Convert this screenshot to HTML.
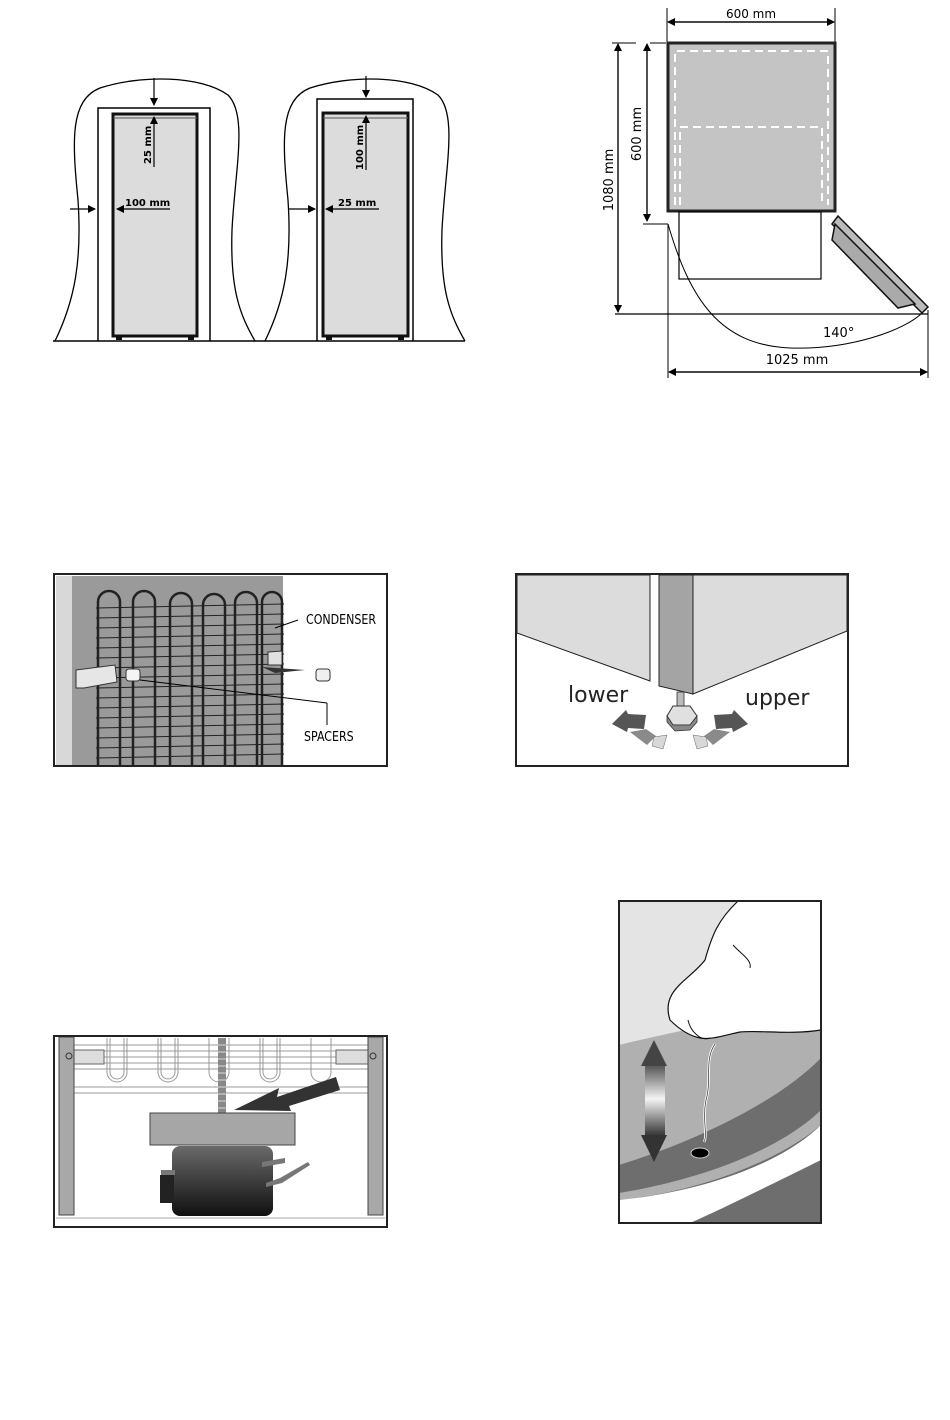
<!DOCTYPE html>
<html><head><meta charset="utf-8"><style>
html,body{margin:0;padding:0;background:#fff;}
svg{display:block;}
text{font-family:"DejaVu Sans","Liberation Sans",sans-serif;}
</style></head><body>
<svg width="950" height="1420" viewBox="0 0 950 1420" xmlns="http://www.w3.org/2000/svg">
<defs>
<marker id="ah" markerWidth="8" markerHeight="8" refX="7" refY="4" orient="auto" markerUnits="userSpaceOnUse">
<path d="M0,0 L8,4 L0,8 z" fill="#000"/></marker>
<linearGradient id="comp" x1="0" y1="0" x2="0" y2="1"><stop offset="0" stop-color="#6a6a6a"/><stop offset="1" stop-color="#101010"/></linearGradient>
<linearGradient id="dar" x1="0" y1="0" x2="0" y2="1"><stop offset="0" stop-color="#444"/><stop offset="0.5" stop-color="#f4f4f4"/><stop offset="1" stop-color="#333"/></linearGradient>
</defs>

<!-- ============ Top-left: clearance diagrams ============ -->
<g fill="none" stroke="#000" stroke-width="1.3">
<path d="M55,341 C75,300 82,260 78,200 C72,140 70,100 100,88 C140,75 200,75 228,95 C248,115 235,170 232,230 C230,290 240,315 255,341"/>
<path d="M265,341 C285,300 292,260 288,200 C282,140 280,100 310,88 C350,75 410,75 438,95 C458,115 445,170 442,230 C440,290 450,315 465,341"/>
</g>
<line x1="53" y1="341" x2="465" y2="341" stroke="#000" stroke-width="1.5"/>
<path d="M98,341 V108 H210 V341" fill="none" stroke="#000" stroke-width="1.5"/>
<rect x="113" y="114" width="84" height="222" fill="#dcdcdc" stroke="#111" stroke-width="3"/>
<line x1="113" y1="118" x2="197" y2="118" stroke="#555" stroke-width="1"/>
<rect x="116" y="336" width="6" height="4" fill="#111"/><rect x="188" y="336" width="6" height="4" fill="#111"/>
<line x1="154" y1="78" x2="154" y2="105" stroke="#000" stroke-width="1.2" marker-end="url(#ah)"/>
<line x1="154" y1="167" x2="154" y2="117" stroke="#000" stroke-width="1.2" marker-end="url(#ah)"/>
<text transform="translate(151,164) rotate(-90)" font-size="10" font-weight="bold">25 mm</text>
<line x1="70" y1="209" x2="95" y2="209" stroke="#000" stroke-width="1.2" marker-end="url(#ah)"/>
<line x1="170" y1="209" x2="117" y2="209" stroke="#000" stroke-width="1.2" marker-end="url(#ah)"/>
<text x="125" y="206" font-size="10" font-weight="bold">100 mm</text>
<path d="M317,341 V99 H413 V341" fill="none" stroke="#000" stroke-width="1.5"/>
<rect x="323" y="113" width="85" height="223" fill="#dcdcdc" stroke="#111" stroke-width="3"/>
<line x1="323" y1="118" x2="408" y2="118" stroke="#555" stroke-width="1"/>
<rect x="326" y="336" width="6" height="4" fill="#111"/><rect x="398" y="336" width="6" height="4" fill="#111"/>
<line x1="366" y1="76" x2="366" y2="97" stroke="#000" stroke-width="1.2" marker-end="url(#ah)"/>
<line x1="366" y1="170" x2="366" y2="116" stroke="#000" stroke-width="1.2" marker-end="url(#ah)"/>
<text transform="translate(363,170) rotate(-90)" font-size="10" font-weight="bold">100 mm</text>
<line x1="289" y1="209" x2="315" y2="209" stroke="#000" stroke-width="1.2" marker-end="url(#ah)"/>
<line x1="379" y1="209" x2="326" y2="209" stroke="#000" stroke-width="1.2" marker-end="url(#ah)"/>
<text x="338" y="206" font-size="10" font-weight="bold">25 mm</text>

<!-- ============ Top-right: plan view ============ -->
<line x1="667" y1="8" x2="667" y2="42" stroke="#000" stroke-width="1"/>
<line x1="835" y1="8" x2="835" y2="42" stroke="#000" stroke-width="1"/>
<line x1="670" y1="22" x2="834" y2="22" stroke="#000" stroke-width="1.2" marker-end="url(#ah)"/>
<line x1="832" y1="22" x2="668" y2="22" stroke="#000" stroke-width="1.2" marker-end="url(#ah)"/>
<text x="751" y="18" font-size="12" text-anchor="middle">600 mm</text>
<rect x="668" y="43" width="167" height="168" fill="#c4c4c4" stroke="#222" stroke-width="3"/>
<path d="M675,205 V51 H828 V205" fill="none" stroke="#fff" stroke-width="2" stroke-dasharray="8,5"/>
<path d="M680,205 V127 H822 V205" fill="none" stroke="#fff" stroke-width="2" stroke-dasharray="8,5"/>
<rect x="679" y="212" width="142" height="67" fill="none" stroke="#000" stroke-width="1.2"/>
<line x1="612" y1="43" x2="636" y2="43" stroke="#000"/><line x1="650" y1="43" x2="666" y2="43" stroke="#000"/>
<line x1="643" y1="224" x2="668" y2="224" stroke="#000"/>
<line x1="618" y1="46" x2="618" y2="312" stroke="#000" stroke-width="1.2" marker-end="url(#ah)"/>
<line x1="618" y1="310" x2="618" y2="44" stroke="#000" stroke-width="1.2" marker-end="url(#ah)"/>
<line x1="647" y1="46" x2="647" y2="221" stroke="#000" stroke-width="1.2" marker-end="url(#ah)"/>
<line x1="647" y1="218" x2="647" y2="44" stroke="#000" stroke-width="1.2" marker-end="url(#ah)"/>
<text transform="translate(613,180) rotate(-90)" font-size="13" text-anchor="middle">1080 mm</text>
<text transform="translate(641,134) rotate(-90)" font-size="13" text-anchor="middle">600 mm</text>
<line x1="615" y1="314" x2="928" y2="314" stroke="#000" stroke-width="1.2"/>
<polygon points="832,224 838,216 928,307 922,313" fill="#bbb" stroke="#111" stroke-width="1.5"/>
<polygon points="835,224 832,240 898,308 915,304" fill="#aaa" stroke="#111" stroke-width="1.5"/>
<path d="M668,224 C690,300 720,345 790,348 C850,350 905,330 922,313" fill="none" stroke="#000" stroke-width="1"/>
<text x="823" y="337" font-size="13">140°</text>
<line x1="668" y1="224" x2="668" y2="378" stroke="#000"/>
<line x1="928" y1="310" x2="928" y2="378" stroke="#000"/>
<line x1="671" y1="372" x2="927" y2="372" stroke="#000" stroke-width="1.2" marker-end="url(#ah)"/>
<line x1="925" y1="372" x2="669" y2="372" stroke="#000" stroke-width="1.2" marker-end="url(#ah)"/>
<text x="797" y="364" font-size="13" text-anchor="middle">1025 mm</text>

<!-- ============ Condenser panel ============ -->
<rect x="54" y="574" width="333" height="192" fill="#fff"/>
<rect x="56" y="576" width="16" height="189" fill="#d8d8d8"/>
<rect x="72" y="576" width="211" height="189" fill="#9a9a9a"/>
<g stroke="#222" stroke-width="2.5" fill="none">
<path d="M98,765 V602 A11,11 0 0 1 120,602 V765"/>
<path d="M133,765 V602 A11,11 0 0 1 155,602 V765"/>
<path d="M170,765 V604 A11,11 0 0 1 192,604 V765"/>
<path d="M203,765 V605 A11,11 0 0 1 225,605 V765"/>
<path d="M235,765 V603 A11,11 0 0 1 257,603 V765"/>
<path d="M262,765 V602 A10,10 0 0 1 282,602 V765"/>
</g>
<g stroke="#222" stroke-width="1">
<line x1="96" y1="608" x2="284" y2="604"/><line x1="96" y1="618" x2="284" y2="614"/>
<line x1="96" y1="628" x2="284" y2="624"/><line x1="96" y1="638" x2="284" y2="634"/>
<line x1="96" y1="648" x2="284" y2="644"/><line x1="96" y1="658" x2="284" y2="654"/>
<line x1="96" y1="668" x2="284" y2="664"/><line x1="96" y1="678" x2="284" y2="674"/>
<line x1="96" y1="688" x2="284" y2="684"/><line x1="96" y1="698" x2="284" y2="694"/>
<line x1="96" y1="708" x2="284" y2="704"/><line x1="96" y1="718" x2="284" y2="714"/>
<line x1="96" y1="728" x2="284" y2="724"/><line x1="96" y1="738" x2="284" y2="734"/>
<line x1="96" y1="748" x2="284" y2="744"/><line x1="96" y1="758" x2="284" y2="754"/>
</g>
<polygon points="76,670 115,665 117,682 84,688 76,688" fill="#e6e6e6" stroke="#333" stroke-width="1"/>
<rect x="126" y="669" width="14" height="12" rx="3" fill="#f4f4f4" stroke="#333"/>
<polygon points="268,652 282,651 282,665 268,665" fill="#e0e0e0" stroke="#333"/>
<polygon points="262,667 305,670 275,673" fill="#333"/>
<rect x="316" y="669" width="14" height="12" rx="3" fill="#f0f0f0" stroke="#333"/>
<line x1="140" y1="680" x2="327" y2="703" stroke="#000"/>
<line x1="327" y1="703" x2="327" y2="725" stroke="#000"/>
<line x1="275" y1="628" x2="298" y2="620" stroke="#000"/>
<text x="306" y="624" font-size="13" font-family="Liberation Sans" transform="translate(306,0) scale(0.85,1) translate(-306,0)">CONDENSER</text>
<text x="304" y="741" font-size="13" font-family="Liberation Sans" transform="translate(304,0) scale(0.85,1) translate(-304,0)">SPACERS</text>
<rect x="54" y="574" width="333" height="192" fill="none" stroke="#222" stroke-width="2"/>

<!-- ============ Leveling panel ============ -->
<rect x="516" y="574" width="332" height="192" fill="#fff"/>
<polygon points="517,575 650,575 650,681 517,633" fill="#dcdcdc" stroke="#222" stroke-width="1"/>
<polygon points="693,575 847,575 847,631 693,694" fill="#dcdcdc" stroke="#222" stroke-width="1"/>
<polygon points="659,575 693,575 693,694 659,686" fill="#a4a4a4" stroke="#222" stroke-width="1"/>
<rect x="677" y="692" width="7" height="18" fill="#bbb" stroke="#333" stroke-width="0.8"/>
<polygon points="667,716 673,706 690,706 697,716 690,725 673,725" fill="#e0e0e0" stroke="#333"/>
<polygon points="667,716 667,722 675,731 690,730 697,722 697,716 690,725 673,725" fill="#888" stroke="#333" stroke-width="0.8"/>
<polygon points="612,724 626,710 628,714 646,715 644,729 628,728 627,732" fill="#555"/>
<polygon points="630,732 646,729 656,736 647,745" fill="#8a8a8a"/>
<polygon points="654,737 667,735 663,749 652,746" fill="#d8d8d8" stroke="#666" stroke-width="0.5"/>
<polygon points="748,724 734,710 732,714 714,715 716,729 732,728 733,732" fill="#555"/>
<polygon points="730,732 714,729 704,736 713,745" fill="#8a8a8a"/>
<polygon points="706,737 693,735 697,749 708,746" fill="#d8d8d8" stroke="#666" stroke-width="0.5"/>
<text x="568" y="702" font-size="22" fill="#222" font-family="Liberation Sans">lower</text>
<text x="745" y="705" font-size="22" fill="#222" font-family="Liberation Sans">upper</text>
<rect x="516" y="574" width="332" height="192" fill="none" stroke="#222" stroke-width="2"/>

<!-- ============ Compressor panel ============ -->
<rect x="54" y="1036" width="333" height="191" fill="#fff"/>
<g stroke="#999" stroke-width="1" fill="none">
<line x1="74" y1="1045" x2="368" y2="1045"/><line x1="74" y1="1051" x2="368" y2="1051"/>
<line x1="74" y1="1057" x2="368" y2="1057"/><line x1="74" y1="1063" x2="368" y2="1063"/>
<line x1="74" y1="1069" x2="368" y2="1069"/><line x1="74" y1="1087" x2="368" y2="1087"/>
<line x1="74" y1="1093" x2="368" y2="1093"/>
<path d="M107,1038 V1072 A10,10 0 0 0 127,1072 V1038 M110,1038 V1072 A7,7 0 0 0 124,1072 V1038"/>
<path d="M158,1038 V1072 A10,10 0 0 0 178,1072 V1038 M161,1038 V1072 A7,7 0 0 0 175,1072 V1038"/>
<path d="M209,1038 V1072 A10,10 0 0 0 229,1072 V1038"/>
<path d="M260,1038 V1072 A10,10 0 0 0 280,1072 V1038 M263,1038 V1072 A7,7 0 0 0 277,1072 V1038"/>
<path d="M311,1038 V1072 A10,10 0 0 0 331,1072 V1038"/>
</g>
<rect x="64" y="1050" width="40" height="14" fill="#ddd" stroke="#666"/>
<rect x="336" y="1050" width="40" height="14" fill="#ddd" stroke="#666"/>
<rect x="59" y="1037" width="15" height="178" fill="#a8a8a8" stroke="#444"/>
<rect x="368" y="1037" width="15" height="178" fill="#a8a8a8" stroke="#444"/>
<circle cx="69" cy="1056" r="3" fill="none" stroke="#333"/><circle cx="373" cy="1056" r="3" fill="none" stroke="#333"/>
<rect x="218" y="1038" width="8" height="82" fill="#888"/>
<g stroke="#eee" stroke-width="0.8"><line x1="218" y1="1045" x2="226" y2="1045"/><line x1="218" y1="1052" x2="226" y2="1052"/><line x1="218" y1="1059" x2="226" y2="1059"/><line x1="218" y1="1066" x2="226" y2="1066"/><line x1="218" y1="1073" x2="226" y2="1073"/><line x1="218" y1="1080" x2="226" y2="1080"/><line x1="218" y1="1087" x2="226" y2="1087"/><line x1="218" y1="1094" x2="226" y2="1094"/><line x1="218" y1="1101" x2="226" y2="1101"/><line x1="218" y1="1108" x2="226" y2="1108"/></g>
<polygon points="234,1110 279,1088 277,1097 336,1077 340,1090 289,1106 291,1111" fill="#333"/>
<rect x="150" y="1113" width="145" height="32" fill="#a6a6a6" stroke="#444"/>
<rect x="172" y="1146" width="101" height="70" rx="8" fill="url(#comp)"/>
<rect x="160" y="1175" width="14" height="28" fill="#222"/>
<rect x="161" y="1170" width="14" height="5" fill="#777"/>
<polygon points="262,1162 285,1158 285,1163 262,1167" fill="#777"/>
<polygon points="266,1183 280,1178 308,1162 310,1165 282,1183 266,1187" fill="#777"/>
<line x1="56" y1="1218" x2="385" y2="1218" stroke="#aaa"/>
<rect x="54" y="1036" width="333" height="191" fill="none" stroke="#222" stroke-width="2"/>

<!-- ============ Drain panel ============ -->
<rect x="619" y="901" width="202" height="322" fill="#e4e4e4"/>
<path d="M619,1045 C680,1030 760,1015 821,1005 V1223 H619 Z" fill="#b0b0b0"/>
<path d="M619,1165 C700,1140 780,1100 821,1058 V1223 H619 Z" fill="#6e6e6e"/>
<path d="M619,1193 C700,1180 780,1150 821,1110 V1125 C780,1160 700,1192 619,1200 Z" fill="#b0b0b0"/>
<path d="M619,1200 C700,1192 780,1165 821,1125 V1160 C760,1190 720,1210 690,1223 H619 Z" fill="#fff"/>
<path d="M670,1020 C660,990 690,980 705,960 C712,935 718,920 738,901 H821 V1030 C790,1035 760,1030 740,1032 C725,1035 712,1040 700,1038 C690,1036 680,1030 670,1020 Z" fill="#fff" stroke="#111" stroke-width="1.2"/>
<path d="M688,1020 C690,1030 700,1042 710,1038" fill="none" stroke="#111"/>
<path d="M733,945 C742,955 752,960 750,968" fill="none" stroke="#111"/>
<rect x="645" y="1062" width="20" height="74" fill="url(#dar)"/>
<polygon points="641,1066 654,1040 667,1066" fill="#444"/>
<polygon points="641,1135 654,1162 667,1135" fill="#333"/>
<path d="M715,1044 C704,1060 712,1080 706,1100 C702,1120 708,1135 704,1142" fill="none" stroke="#fff" stroke-width="2.5"/>
<path d="M715,1044 C704,1060 712,1080 706,1100 C702,1120 708,1135 704,1142" fill="none" stroke="#333" stroke-width="0.7"/>
<ellipse cx="700" cy="1153" rx="9" ry="5" fill="#000" stroke="#ccc"/>
<rect x="619" y="901" width="202" height="322" fill="none" stroke="#222" stroke-width="2"/>
</svg>
</body></html>
